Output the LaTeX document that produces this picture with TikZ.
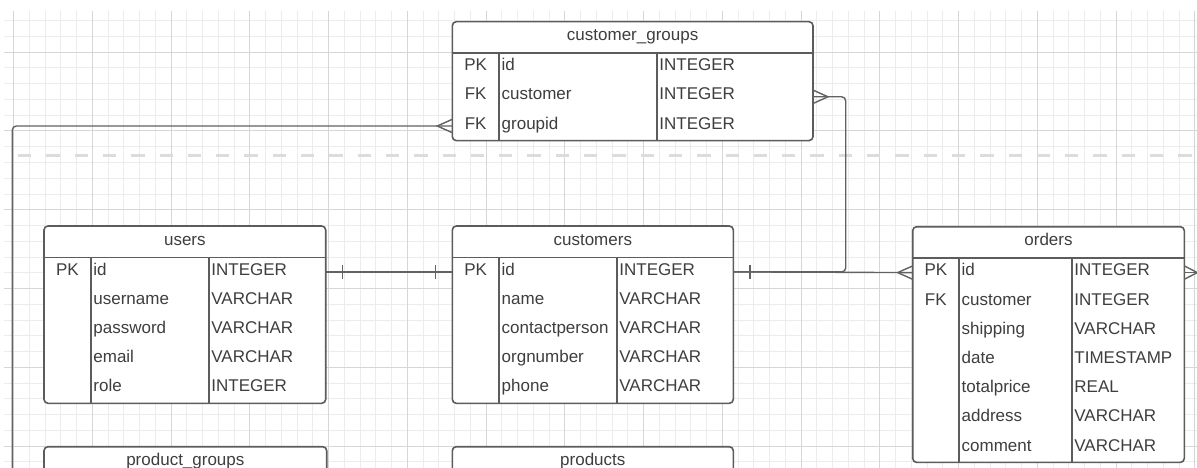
\documentclass[tikz,border=0pt]{standalone}
\usepackage{fontspec}
\setmainfont{Liberation Sans}
\usetikzlibrary{calc}

\definecolor{inkgray}{RGB}{62,62,62}
\definecolor{boxline}{RGB}{92,92,92}
\definecolor{connline}{RGB}{98,98,98}
\definecolor{gridminor}{RGB}{236,236,236}
\definecolor{gridmajor}{RGB}{214,214,214}
\definecolor{lanedash}{RGB}{220,220,220}

\tikzset{
  entbox/.style={draw=boxline, line width=1.6pt, fill=white, rounded corners=4pt, inner sep=0pt, outer sep=0pt},
  entline/.style={draw=boxline, line width=1.6pt},
  celltext/.style={inner sep=0pt, text=inkgray, font=\fontsize{17}{20}\selectfont},
  titletext/.style={celltext, anchor=base},
  keytext/.style={celltext, anchor=base},
  fieldtext/.style={celltext, anchor=base west},
  conn/.style={draw=connline, line width=1.4pt},
  lane/.style={draw=lanedash, line width=3pt, dash pattern=on 13.3pt off 15pt},
}

% #1 name, #2 left, #3 right, #4 top, #5 key|name divider, #6 name|type divider,
% #7 number of rows, #8 title, #9 rows as key/name/type
\newcommand\erentity[9]{%
  \pgfmathsetmacro\entH{31.3+#7*29.2}%
  \node[entbox, minimum width={#3pt-#2pt}, minimum height={\entH pt}, anchor=north west] (#1) at (#2,#4) {};
  \node[titletext] (#1-title) at ({(#2+#3)/2},{#4+19}) {#8};
  \draw[entline] (#2,{#4+31.3}) -- (#3,{#4+31.3});
  \draw[entline] (#5,{#4+31.3}) -- (#5,{#4+\entH});
  \draw[entline] (#6,{#4+31.3}) -- (#6,{#4+\entH});
  \foreach \colkey/\colname/\coltype [count=\i from 0] in {#9} {
    \pgfmathsetmacro\rowbase{#4+31.3+\i*29.2+17.8}
    \pgfmathsetmacro\rowmid{#4+31.3+(\i+0.5)*29.2}
    \node[keytext] (#1-key\i) at ({(#2+#5)/2},\rowbase) {\colkey};
    \node[fieldtext] (#1-name\i) at ({#5+2.5},\rowbase) {\colname};
    \node[fieldtext] (#1-type\i) at ({#6+2.5},\rowbase) {\coltype};
    \coordinate (#1-r\i-w) at (#2,\rowmid);
    \coordinate (#1-r\i-e) at (#3,\rowmid);
  }%
}

\begin{document}
\begin{tikzpicture}[x=1pt,y=-1pt]
\useasboundingbox (0,0) rectangle (1197,468);
\clip (0,0) rectangle (1197,468);
\fill[white] (0,0) rectangle (1197,468);

% background grid
\foreach \k in {0,...,75}
  \draw[gridminor, line width=0.9pt] ({13.55+15.75*\k},11) -- ({13.55+15.75*\k},468);
\foreach \k in {0,...,28}
  \draw[gridminor, line width=0.9pt] (4,{20.7+15.75*\k}) -- (1197,{20.7+15.75*\k});
\foreach \m in {0,...,15}
  \draw[gridmajor, line width=0.9pt] ({13.55+78.75*\m},11) -- ({13.55+78.75*\m},468);
\foreach \m in {0,...,5}
  \draw[gridmajor, line width=0.9pt] (4,{52.2+78.75*\m}) -- (1197,{52.2+78.75*\m});

% dashed separator
\coordinate (lane-w) at (18,156);
\coordinate (lane-e) at (1200,156);
\draw[lane] (lane-w) -- (lane-e);

% entities
\erentity{cgroups}{452.3}{813}{21.7}{499}{656.7}{3}{customer\_groups}
  {PK/id/INTEGER, FK/customer/INTEGER, FK/groupid/INTEGER}
\erentity{users}{44}{325.7}{226}{90.7}{208.7}{5}{users}
  {PK/id/INTEGER, {}/username/VARCHAR, {}/password/VARCHAR, {}/email/VARCHAR, {}/role/INTEGER}
\erentity{customers}{452.3}{733.3}{226}{499}{616.7}{5}{customers}
  {PK/id/INTEGER, {}/name/VARCHAR, {}/contactperson/VARCHAR, {}/orgnumber/VARCHAR, {}/phone/VARCHAR}
\erentity{orders}{912.7}{1184.3}{226.7}{959}{1071.7}{7}{orders}
  {PK/id/INTEGER, FK/customer/INTEGER, {}/shipping/VARCHAR, {}/date/TIMESTAMP, {}/totalprice/REAL, {}/address/VARCHAR, {}/comment/VARCHAR}

\node[entbox, minimum width=282.7pt, minimum height=80pt, anchor=north west] (pgroups) at (44,446.7) {};
\node[titletext] (pgroups-title) at (185.35,465.7) {product\_groups};
\node[entbox, minimum width=281pt, minimum height=80pt, anchor=north west] (products) at (452.3,446.7) {};
\node[titletext] (products-title) at (592.8,465.7) {products};

% relationships
\coordinate (leftdrop) at (12.3,520);
\coordinate (rightexit) at ($(orders-r0-e)+(40,0)$);

\draw[conn] (users-r0-e) -- (customers-r0-w);
\draw[conn] (customers-r0-e) -- (orders-r0-w);
\draw[conn, rounded corners=4pt] (cgroups-r1-e) -- ++(32.7,0) |- (customers-r0-e);
\draw[conn, rounded corners=4pt] (cgroups-r2-w) -| (leftdrop);
\draw[conn] (orders-r0-e) -- (rightexit);

% one-side bars
\draw[conn] ($(users-r0-e)+(16.5,-7)$) -- ++(0,14);
\draw[conn] ($(customers-r0-w)+(-17,-7)$) -- ++(0,14);
\draw[conn] ($(customers-r0-e)+(16.5,-7)$) -- ++(0,14);

% crow's feet on the many side
\draw[conn] ($(orders-r0-w)+(0,-6.7)$) -- ($(orders-r0-w)+(-15,0)$) -- ($(orders-r0-w)+(0,6.7)$);
\draw[conn] ($(cgroups-r1-e)+(0,-6.7)$) -- ($(cgroups-r1-e)+(15,0)$) -- ($(cgroups-r1-e)+(0,6.7)$);
\draw[conn] ($(cgroups-r2-w)+(0,-6.7)$) -- ($(cgroups-r2-w)+(-15,0)$) -- ($(cgroups-r2-w)+(0,6.7)$);
\draw[conn] ($(orders-r0-e)+(0,-6.7)$) -- ($(orders-r0-e)+(13,0)$) -- ($(orders-r0-e)+(0,6.7)$);
\end{tikzpicture}
\end{document}
